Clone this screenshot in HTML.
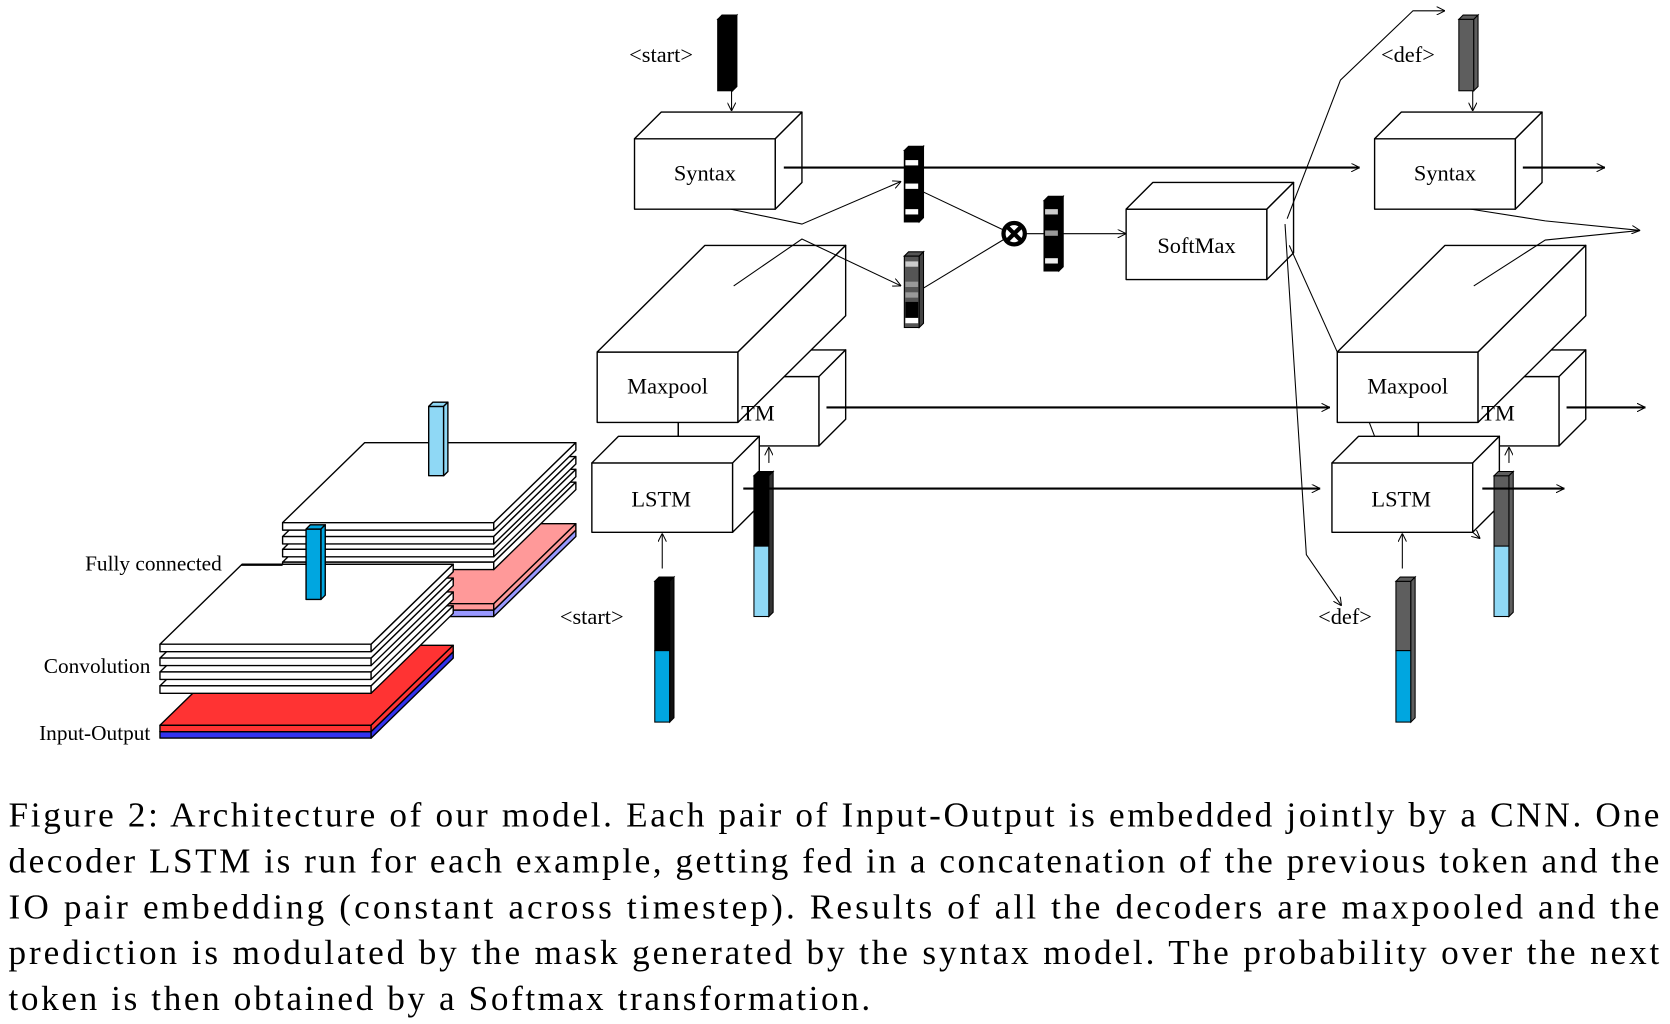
<!DOCTYPE html>
<html><head><meta charset="utf-8"><style>
html,body{margin:0;padding:0;background:#fff;}
svg{display:block;}
text{font-family:"Liberation Serif",serif;fill:#000;}
</style></head><body>
<svg width="1670" height="1024" viewBox="0 0 1566 960" xmlns="http://www.w3.org/2000/svg">
<defs>
<marker id="a" viewBox="0 0 10 10" refX="10" refY="5" markerWidth="8" markerHeight="8" orient="auto" markerUnits="userSpaceOnUse"><path d="M0,0 L10,5 L0,10" fill="none" stroke="#000" stroke-width="1.2"/></marker>
</defs>
<g stroke="#000" stroke-width="1.3" stroke-linejoin="round">
<!-- back CNN stack -->
<polygon points="265,572 342,497 540,497 463,572" fill="#9999ff"/>
<rect x="265" y="572" width="198" height="6" fill="#9999ff"/>
<polygon points="463,572 540,497 540,503 463,578" fill="#9999ff"/>
<polygon points="265,566 342,491 540,491 463,566" fill="#ff9999"/>
<rect x="265" y="566" width="198" height="6" fill="#ff9999"/>
<polygon points="463,566 540,491 540,497 463,572" fill="#ff9999"/>
<g fill="#fff">
<polygon points="265,527 342,452 540,452 463,527"/><rect x="265" y="527" width="198" height="7"/><polygon points="463,527 540,452 540,459 463,534"/>
<polygon points="265,515 342,440 540,440 463,515"/><rect x="265" y="515" width="198" height="7"/><polygon points="463,515 540,440 540,447 463,522"/>
<polygon points="265,503 342,428 540,428 463,503"/><rect x="265" y="503" width="198" height="7"/><polygon points="463,503 540,428 540,435 463,510"/>
<polygon points="265,490 342,415 540,415 463,490"/><rect x="265" y="490" width="198" height="7"/><polygon points="463,490 540,415 540,422 463,497"/>
</g>
<!-- light blue bar -->
<rect x="402" y="381" width="14" height="65" fill="#8fd8f5"/>
<polygon points="402,381 406,377 420,377 416,381" fill="#8fd8f5"/>
<polygon points="416,381 420,377 420,442 416,446" fill="#8fd8f5"/>
<!-- front CNN stack -->
<polygon points="150,686 227,611 425,611 348,686" fill="#3333ee"/>
<rect x="150" y="686" width="198" height="6" fill="#3333ee"/>
<polygon points="348,686 425,611 425,617 348,692" fill="#3333ee"/>
<polygon points="150,680 227,605 425,605 348,680" fill="#ff3333"/>
<rect x="150" y="680" width="198" height="6" fill="#ff3333"/>
<polygon points="348,680 425,605 425,611 348,686" fill="#ff3333"/>
<g fill="#fff">
<polygon points="150,643 227,568 425,568 348,643"/><rect x="150" y="643" width="198" height="7"/><polygon points="348,643 425,568 425,575 348,650"/>
<polygon points="150,630 227,555 425,555 348,630"/><rect x="150" y="630" width="198" height="7"/><polygon points="348,630 425,555 425,562 348,637"/>
<polygon points="150,617 227,542 425,542 348,617"/><rect x="150" y="617" width="198" height="7"/><polygon points="348,617 425,542 425,549 348,624"/>
<polygon points="150,604 227,529 425,529 348,604"/><rect x="150" y="604" width="198" height="7"/><polygon points="348,604 425,529 425,536 348,611"/>
</g>
<rect x="287" y="496" width="14" height="66" fill="#00a6e0"/>
<polygon points="287,496 291,492 305,492 301,496" fill="#00a6e0"/>
<polygon points="301,496 305,492 305,558 301,562" fill="#00a6e0"/>
<line x1="226" y1="530" x2="265" y2="530" stroke-width="1"/>

<!-- LEFT decoder -->
<g fill="#fff">
<rect x="595" y="130" width="132" height="66"/><polygon points="595,130 620,105 752,105 727,130"/><polygon points="727,130 752,105 752,171 727,196"/>
<rect x="1056" y="196" width="132" height="66"/><polygon points="1056,196 1081,171 1213,171 1188,196"/><polygon points="1188,196 1213,171 1213,237 1188,262"/>
<rect x="636" y="353" width="132" height="65"/><polygon points="636,353 661,328 793,328 768,353"/><polygon points="768,353 793,328 793,393 768,418"/>
<rect x="560" y="330" width="132" height="66"/><polygon points="560,330 661,230 793,230 692,330"/><polygon points="692,330 793,230 793,296 692,396"/>
<rect x="555" y="434" width="132" height="65"/><polygon points="555,434 580,409 712,409 687,434"/><polygon points="687,434 712,409 712,474 687,499"/>
<!-- RIGHT decoder -->
<rect x="1289" y="130" width="132" height="66"/><polygon points="1289,130 1314,105 1446,105 1421,130"/><polygon points="1421,130 1446,105 1446,171 1421,196"/>
<rect x="1330" y="353" width="132" height="65"/><polygon points="1330,353 1355,328 1487,328 1462,353"/><polygon points="1462,353 1487,328 1487,393 1462,418"/>
<rect x="1254" y="330" width="132" height="66"/><polygon points="1254,330 1355,230 1487,230 1386,330"/><polygon points="1386,330 1487,230 1487,296 1386,396"/>
<rect x="1249" y="434" width="132" height="65"/><polygon points="1249,434 1274,409 1406,409 1381,434"/><polygon points="1381,434 1406,409 1406,474 1381,499"/>
</g>
<line x1="636" y1="396" x2="636" y2="409"/>
<line x1="1330" y1="396" x2="1330" y2="409"/>
</g>

<!-- token vectors -->
<g stroke="#000" stroke-width="1">
<rect x="673" y="18" width="14" height="67" fill="#000"/><polygon points="673,18 677,14 691,14 687,18" fill="#000"/><polygon points="687,18 691,14 691,81 687,85" fill="#000"/>
<rect x="1368" y="18" width="14" height="67" fill="#5e5e5e"/><polygon points="1368,18 1372,14 1386,14 1382,18" fill="#5e5e5e"/><polygon points="1382,18 1386,14 1386,81 1382,85" fill="#5e5e5e"/>
<rect x="614" y="545" width="14" height="65" fill="#000"/><rect x="614" y="610" width="14" height="67" fill="#00a6e0"/><polygon points="614,545 618,541 632,541 628,545" fill="#000"/><polygon points="628,545 632,541 632,673 628,677" fill="#111"/>
<rect x="1309" y="545" width="14" height="65" fill="#5e5e5e"/><rect x="1309" y="610" width="14" height="67" fill="#00a6e0"/><polygon points="1309,545 1313,541 1327,541 1323,545" fill="#5e5e5e"/><polygon points="1323,545 1327,541 1327,673 1323,677" fill="#5e5e5e"/>
<rect x="707" y="446" width="14" height="66" fill="#000"/><rect x="707" y="512" width="14" height="66" fill="#8fd8f5"/><polygon points="707,446 711,442 725,442 721,446" fill="#000"/><polygon points="721,446 725,442 725,574 721,578" fill="#333"/>
<rect x="1401" y="446" width="14" height="66" fill="#5e5e5e"/><rect x="1401" y="512" width="14" height="66" fill="#8fd8f5"/><polygon points="1401,446 1405,442 1419,442 1415,446" fill="#5e5e5e"/><polygon points="1415,446 1419,442 1419,574 1415,578" fill="#5e5e5e"/>
<!-- masks -->
<rect x="848" y="141" width="14" height="67" fill="#000"/><polygon points="848,141 852,137 866,137 862,141" fill="#000"/><polygon points="862,141 866,137 866,204 862,208" fill="#000"/>
<rect x="849" y="150" width="12" height="5" fill="#fff" stroke="none"/><rect x="849" y="172" width="12" height="5" fill="#fff" stroke="none"/><rect x="849" y="196" width="12" height="5" fill="#fff" stroke="none"/>
<rect x="848" y="240" width="14" height="67" fill="#555"/><polygon points="848,240 852,236 866,236 862,240" fill="#555"/><polygon points="862,240 866,236 866,303 862,307" fill="#444"/>
<rect x="849" y="245" width="12" height="5" fill="#ccc" stroke="none"/><rect x="849" y="264" width="12" height="5" fill="#999" stroke="none"/><rect x="849" y="274" width="12" height="5" fill="#999" stroke="none"/><rect x="849" y="283" width="12" height="15" fill="#000" stroke="none"/><rect x="849" y="298" width="12" height="5" fill="#fff" stroke="none"/>
<rect x="979" y="188" width="14" height="66" fill="#000"/><polygon points="979,188 983,184 997,184 993,188" fill="#000"/><polygon points="993,188 997,184 997,250 993,254" fill="#000"/>
<rect x="980" y="196" width="12" height="5" fill="#ccc" stroke="none"/><rect x="980" y="216" width="12" height="5" fill="#999" stroke="none"/><rect x="980" y="242" width="12" height="5" fill="#eee" stroke="none"/>
</g>
<circle cx="951" cy="219" r="10" fill="#fff" stroke="#000" stroke-width="4"/>
<path d="M944,212 L958,226 M958,212 L944,226" stroke="#000" stroke-width="4"/>

<!-- connectors -->
<g stroke="#000" fill="none">
<line x1="735" y1="157" x2="1275" y2="157" stroke-width="2" marker-end="url(#a)"/>
<line x1="1428" y1="157" x2="1505" y2="157" stroke-width="2" marker-end="url(#a)"/>
<line x1="775" y1="382" x2="1247" y2="382" stroke-width="2" marker-end="url(#a)"/>
<line x1="1469" y1="382" x2="1543" y2="382" stroke-width="2" marker-end="url(#a)"/>
<line x1="697" y1="458" x2="1238" y2="458" stroke-width="2" marker-end="url(#a)"/>
<line x1="1390" y1="458" x2="1467" y2="458" stroke-width="2" marker-end="url(#a)"/>
<line x1="686" y1="85" x2="686" y2="104" stroke-width="1" marker-end="url(#a)"/>
<line x1="1381" y1="85" x2="1381" y2="104" stroke-width="1" marker-end="url(#a)"/>
<line x1="621" y1="533" x2="621" y2="500" stroke-width="1" marker-end="url(#a)"/>
<line x1="1315" y1="533" x2="1315" y2="500" stroke-width="1" marker-end="url(#a)"/>
<line x1="721" y1="434" x2="721" y2="419" stroke-width="1" marker-end="url(#a)"/>
<line x1="1415" y1="434" x2="1415" y2="419" stroke-width="1" marker-end="url(#a)"/>
<polyline points="685,196 752,210 845,170" stroke-width="1" marker-end="url(#a)"/>
<polyline points="688,268 752,224 845,268" stroke-width="1" marker-end="url(#a)"/>
<line x1="866" y1="180" x2="942" y2="216" stroke-width="1"/>
<line x1="866" y1="270" x2="942" y2="224" stroke-width="1"/>
<line x1="961" y1="219" x2="979" y2="219" stroke-width="1"/>
<line x1="997" y1="219" x2="1056" y2="219" stroke-width="1" marker-end="url(#a)"/>
<polyline points="1207,205 1257,75 1325,10 1355,10" stroke-width="1" marker-end="url(#a)"/>
<polyline points="1205,210 1225,520 1258,568" stroke-width="1" marker-end="url(#a)"/>
<line x1="1209" y1="230" x2="1254" y2="330" stroke-width="1"/>
<polyline points="1379,196 1449,207 1538,216" stroke-width="1" marker-end="url(#a)"/>
<polyline points="1382,268 1449,225 1538,216" stroke-width="1"/>
<line x1="1284" y1="396" x2="1289" y2="409" stroke-width="1"/>
<line x1="1381" y1="499" x2="1388" y2="505" stroke-width="1" marker-end="url(#a)"/>
</g>

<!-- labels -->
<g font-size="21" text-anchor="middle">
<text x="661" y="169">Syntax</text>
<text x="1355" y="169">Syntax</text>
<text x="1122" y="237">SoftMax</text>
<text x="626" y="369">Maxpool</text>
<text x="1320" y="369">Maxpool</text>
<text x="620" y="475">LSTM</text>
<text x="1314" y="475">LSTM</text>
</g>
<g font-size="21">
<text x="695" y="394">TM</text>
<text x="1389" y="394">TM</text>
<text x="590" y="58">&lt;start&gt;</text>
<text x="1295" y="58">&lt;def&gt;</text>
<text x="525" y="585">&lt;start&gt;</text>
<text x="1236" y="585">&lt;def&gt;</text>
</g>
<g font-size="20" text-anchor="end">
<text x="208" y="535">Fully connected</text>
<text x="141" y="631">Convolution</text>
<text x="141" y="694">Input-Output</text>
</g>
<g font-size="33">
<text x="8" y="775" textLength="1548" lengthAdjust="spacing">Figure 2: Architecture of our model. Each pair of Input-Output is embedded jointly by a CNN. One</text>
<text x="8" y="818" textLength="1548" lengthAdjust="spacing">decoder LSTM is run for each example, getting fed in a concatenation of the previous token and the</text>
<text x="8" y="861" textLength="1548" lengthAdjust="spacing">IO pair embedding (constant across timestep). Results of all the decoders are maxpooled and the</text>
<text x="8" y="904" textLength="1548" lengthAdjust="spacing">prediction is modulated by the mask generated by the syntax model. The probability over the next</text>
<text x="8" y="947" textLength="808" lengthAdjust="spacing">token is then obtained by a Softmax transformation.</text>
</g>
</svg>
</body></html>
